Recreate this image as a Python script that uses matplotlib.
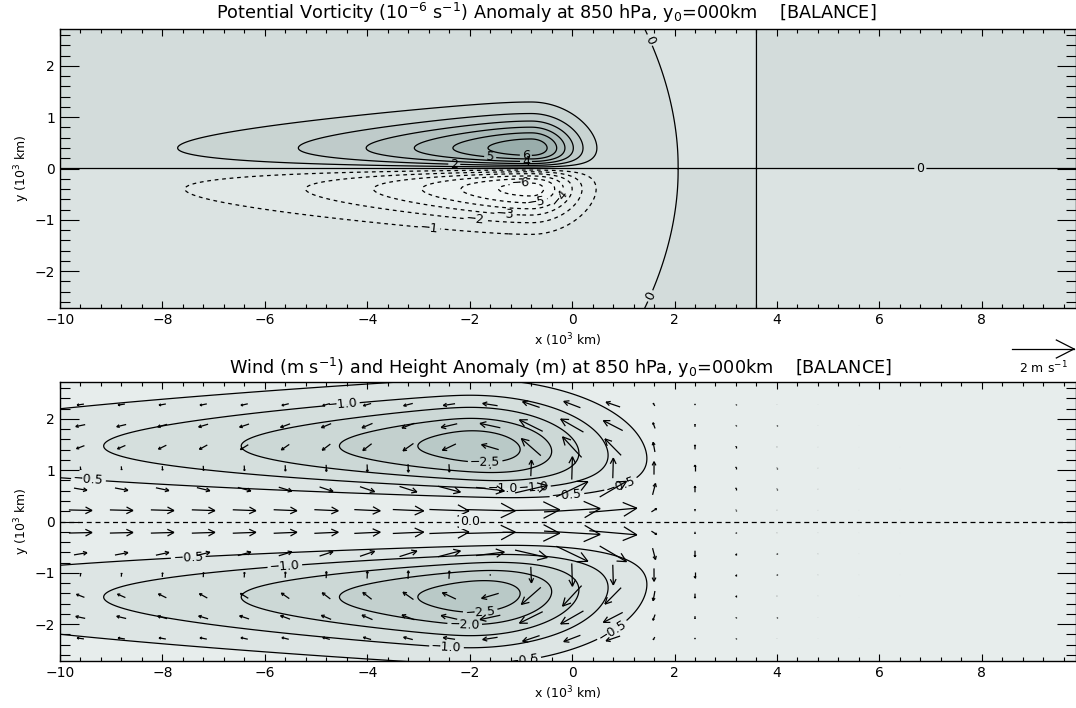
import numpy as np
import matplotlib
matplotlib.use('Agg')
import matplotlib.pyplot as plt
from matplotlib.collections import LineCollection
from matplotlib.lines import Line2D
from matplotlib.ticker import MultipleLocator

# ---- top panel: PV anomaly (1e-6 s-1), shape ----
pv_levels = [-6, -5, -4, -3, -2, -1, 0, 1, 2, 3, 4, 5, 6]
pv_colors = ['#f6f9f8', '#f2f6f5', '#eef3f2', '#eaf0ef', '#e6eceb', '#e1e8e7',
             '#dbe3e2', '#d3dcdb', '#c9d4d2', '#bfcbca', '#b5c3c1', '#abbbb9',
             '#a2b4b2', '#99adab']
pv_peak = [6.6, 6.3]            # north / south lobe amplitude
pv_center_x = -0.8
pv_width_west = 3.0
pv_width_east = 0.9
pv_width_y = [0.4, 0.4]         # north / south
pv_tail = 1.5
pv_zero_x = [2.07, 3.6]         # zero lines east of the anomaly
pv_zero_bend = 0.088
pv_background = 0.15

# ---- bottom panel: height anomaly (m) and wind (m s-1) ----
z_levels = [-2.5, -2.0, -1.5, -1.0, -0.5]
z_colors = ['#b9c9c7', '#c3d0ce', '#ccd8d6', '#d5dfdd', '#dde5e4', '#e7edec']
z_min = -2.8
z_center = [-2.0, 1.45]         # x, |y| of the two lows
z_width_west = 6.6
z_width_east = 2.5
z_tilt = 1.0
z_power = 2.5

u_base = 0.8
u_peak = 1.2
u_peak_x = -0.5
u_peak_w = 2.2
u_cut_x = 0.9
u_cut_w = 0.5
u_zero_y = 1.05
v_factor = 1.0

arrow_x = np.arange(-9.6, 9.7, 0.8)
arrow_y = np.array([-2.28, -1.87, -1.45, -1.04, -0.63, -0.22,
                    0.22, 0.63, 1.04, 1.45, 1.87, 2.28])
ref_speed = 2.0
arrow_scale = 0.605              # data units per m s-1


def envelope(dx, west, east, soft=0.8):
    w = np.exp(-(np.sqrt(dx ** 2 + soft ** 2) - soft) / west)
    e = np.exp(-(dx / east) ** 2)
    return np.where(dx < 0, w, e)


def lobe(r, p):
    return r * np.exp((1 - r ** p) / p)


def pv_field(X, Y):
    ex = envelope(X - pv_center_x, pv_width_west, pv_width_east)
    rn = np.clip(Y, 0, None) / pv_width_y[0]
    rs = np.clip(-Y, 0, None) / pv_width_y[1]
    blob = pv_peak[0] * lobe(rn, pv_tail) - pv_peak[1] * lobe(rs, pv_tail)
    x1 = pv_zero_x[0] - pv_zero_bend * Y ** 2
    bg = pv_background * np.tanh(Y / 0.05) * np.tanh(X - x1) * np.tanh(X - pv_zero_x[1])
    return blob * ex + bg


def height(X, Y):
    r = np.abs(Y) / z_center[1]
    x0 = z_center[0] + z_tilt * np.exp(-2 * r ** 2)
    ex = envelope(X - x0, z_width_west, z_width_east, soft=0.5)
    return z_min * ex * r ** z_power * np.exp(z_power / 2 * (1 - r ** 2))


def wind(X, Y):
    cut = np.where(X > u_cut_x, np.exp(-((X - u_cut_x) / u_cut_w) ** 2), 1.0)
    eu = (u_base + u_peak * np.exp(-((X - u_peak_x) / u_peak_w) ** 2)) * cut
    u = eu * (1 - (Y / u_zero_y) ** 2) * np.exp(-Y ** 2 / 2)
    d = 1e-3
    dhdx = (height(X + d, Y) - height(X - d, Y)) / (2 * d)
    v = v_factor * dhdx / Y
    return u, v


def arrow_lines(x, y, u, v, scale):
    segs = []
    for x0, y0, a, b in zip(x.ravel(), y.ravel(), u.ravel(), v.ravel()):
        dx, dy = a * scale, b * scale
        tip = (x0 + dx / 2, y0 + dy / 2)
        segs.append([(x0 - dx / 2, y0 - dy / 2), tip])
        L = np.hypot(dx, dy)
        if L > 0:
            ang = np.arctan2(dy, dx)
            for s in (1, -1):
                a2 = ang + np.pi + s * np.radians(27)
                segs.append([tip, (tip[0] + 0.32 * L * np.cos(a2), tip[1] + 0.32 * L * np.sin(a2))])
    return segs


def minus(s):
    return s.replace('-', '\u2212')


plt.rcParams['font.family'] = 'DejaVu Sans'
plt.rcParams['axes.unicode_minus'] = True

fig = plt.figure(figsize=(10.76, 7.08), dpi=100)
ax1 = fig.add_axes([60 / 1076, 1 - 308 / 708, 1016 / 1076, 279 / 708])
ax2 = fig.add_axes([60 / 1076, 1 - 661 / 708, 1016 / 1076, 279 / 708])

xg = np.linspace(-10, 10, 700)
yg = np.linspace(-2.8, 2.8, 500)
X, Y = np.meshgrid(xg, yg)

# top panel
Q = pv_field(X, Y)
bounds = [-100] + pv_levels + [100]
ax1.contourf(X, Y, Q, levels=bounds, colors=pv_colors)
ls = [(0, (3, 3)) if l < 0 else 'solid' for l in pv_levels]
cs = ax1.contour(X, Y, Q, levels=pv_levels, colors='k', linewidths=0.9, linestyles=ls)
pv_label_at = [(1.4, 2.45), (1.45, -2.45), (6.8, 0.0), (-0.9, 0.4), (-1.6, 0.22),
               (-0.9, 0.145), (-2.3, 0.11), (-1.0, -0.32), (-0.7, -0.64), (-0.25, -0.57),
               (-1.3, -0.89), (-1.9, -1.0), (-2.8, -1.25)]
ax1.clabel(cs, fmt=lambda v: minus('%d' % v), manual=pv_label_at, fontsize=9, inline=True, inline_spacing=2)

# bottom panel
H = height(X, Y)
zb = [-100] + z_levels + [100]
ax2.contourf(X, Y, H, levels=zb, colors=z_colors)
cz = ax2.contour(X, Y, H, levels=z_levels, colors='k', linewidths=0.9, linestyles='solid')
z_label_at = [(-4.5, 2.45), (-9.45, 0.72), (-7.5, -0.6), (-5.6, -1.0), (-1.7, 1.42),
              (-1.35, 0.72), (-0.75, 0.6), (-0.1, 0.5), (0.95, 0.72), (-1.8, -1.65),
              (-2.1, -2.1), (-2.45, -2.4), (-0.95, -2.65), (0.95, -2.4)]
ax2.clabel(cz, fmt=lambda v: minus('%.1f' % v), manual=z_label_at, fontsize=9, inline=True, inline_spacing=2)
ax2.axhline(0, color='k', lw=0.9, ls=(0, (4, 3)))
ax2.text(-2.0, 0, '0.0', fontsize=9, ha='center', va='center',
         bbox=dict(boxstyle='square,pad=0.05', fc=z_colors[-1], ec='none'))

AX, AY = np.meshgrid(arrow_x, arrow_y)
U, V = wind(AX, AY)
ax2.add_collection(LineCollection(arrow_lines(AX, AY, U, V, arrow_scale), colors='k', linewidths=0.9))

titles = ['Potential Vorticity (10$^{-6}$ s$^{-1}$) Anomaly at 850 hPa, y$_0$=000km    [BALANCE]',
          'Wind (m s$^{-1}$) and Height Anomaly (m) at 850 hPa, y$_0$=000km    [BALANCE]']
fig.text(546 / 1076, 1 - 13 / 708, titles[0], ha='center', va='center', fontsize=12.7)
fig.text(560 / 1076, 1 - 368 / 708, titles[1], ha='center', va='center', fontsize=12.7)

for ax in (ax1, ax2):
    ax.set_xlim(-10, 9.84)
    ax.set_ylim(-2.72, 2.72)
    ax.xaxis.set_major_locator(MultipleLocator(2))
    ax.xaxis.set_minor_locator(MultipleLocator(0.4))
    ax.yaxis.set_major_locator(MultipleLocator(1))
    ax.yaxis.set_minor_locator(MultipleLocator(0.2))
    ax.tick_params(which='both', direction='in', top=True, right=True, labelsize=10, width=0.8)
    ax.tick_params(axis='x', which='major', length=5)
    ax.tick_params(axis='x', which='minor', length=3)
    ax.tick_params(axis='y', which='major', length=14)
    ax.tick_params(axis='y', which='minor', length=7)
    ax.set_xlabel('x (10$^3$ km)', fontsize=9, labelpad=3)
    ax.set_ylabel('y (10$^3$ km)', fontsize=9, labelpad=2)
    for sp in ax.spines.values():
        sp.set_linewidth(1.0)

# reference arrow above the lower panel
y_ref = 1 - 349 / 708
x_end = 1074 / 1076
x_start = x_end - ref_speed * arrow_scale * 51.2 / 1076
hl = 0.32 * (x_end - x_start)
fig.add_artist(Line2D([x_start, x_end], [y_ref, y_ref], color='k', lw=0.9))
for s in (1, -1):
    fig.add_artist(Line2D([x_end, x_end - hl * np.cos(np.radians(27))],
                          [y_ref, y_ref + s * hl * np.sin(np.radians(27)) * 1076 / 708],
                          color='k', lw=0.9))
fig.text((x_start + x_end) / 2, 1 - 368 / 708, '2 m s$^{-1}$', ha='center', va='center', fontsize=9)

fig.savefig('out.png', dpi=100)
